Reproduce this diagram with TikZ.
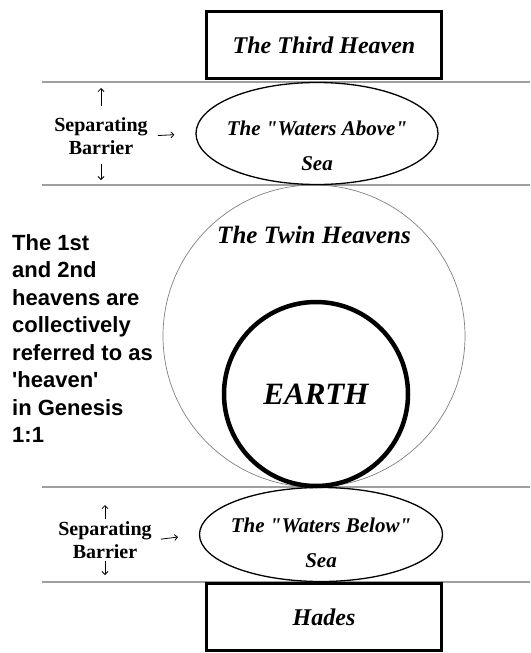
\documentclass[tikz,border=0pt]{standalone}
\usepackage{fontspec}
\setmainfont{Liberation Serif}
\newfontfamily\notefont{Liberation Sans}
\usetikzlibrary{shapes.geometric,arrows.meta}

\begin{document}
\begin{tikzpicture}[x=1pt, y=-1pt,
    realm/.style={draw, line width=3pt, minimum width=235pt, minimum height=67pt, inner sep=0pt,
        font=\fontsize{24}{28}\selectfont\bfseries\itshape},
    sea/.style={draw, ellipse, line width=1.3pt, inner sep=0pt},
    seatext/.style={align=center, inner sep=0pt, font=\fontsize{21}{35}\selectfont\bfseries\itshape},
    barrier/.style={align=center, inner sep=2pt, font=\fontsize{20}{23}\selectfont\bfseries},
    layer/.style={gray!75, line width=1.8pt},
    tick/.style={-{Straight Barb[length=3pt,width=6pt]}, line width=0.8pt}]
    \useasboundingbox (0,0) rectangle (530,653);

    % Layer boundaries
    \coordinate (line1 west) at (42,82);   \coordinate (line1 east) at (530,82);
    \coordinate (line2 west) at (42,185);  \coordinate (line2 east) at (530,185);
    \coordinate (line3 west) at (42,487);  \coordinate (line3 east) at (530,487);
    \coordinate (line4 west) at (42,582);  \coordinate (line4 east) at (530,582);
    \foreach \n in {1,...,4}
        \draw[layer] (line\n\space west) -- (line\n\space east);

    % Twin heavens and earth
    \node[draw=gray, circle, line width=0.7pt, minimum size=302pt, inner sep=0pt] (twin) at (314,336) {};
    \node[font=\fontsize{25}{28}\selectfont\bfseries\itshape] (twin label) at ([yshift=-50pt]twin.north) {The Twin Heavens};
    \node[draw, circle, line width=4.5pt, minimum size=184pt, inner sep=0pt,
        font=\fontsize{31}{34}\selectfont\bfseries\itshape] (earth) at (316,394) {EARTH};

    % Waters above and below
    \node[sea, minimum width=242pt, minimum height=102pt] (above) at (317,133.5) {};
    \node[seatext] (above label) at ([yshift=-12pt]above.center) {The \textquotedbl Waters Above\textquotedbl\\Sea};
    \node[sea, minimum width=243pt, minimum height=94pt] (below) at (321,534.5) {};
    \node[seatext] (below label) at ([yshift=-8pt]below.center) {The \textquotedbl Waters Below\textquotedbl\\Sea};

    % Third heaven and Hades
    \node[realm] (third) at (324,45) {The Third Heaven};
    \node[realm] (hades) at (324,617) {Hades};

    % Separating barriers
    \node[barrier] (bar1) at (101,136) {Separating\\Barrier};
    \draw[tick, shorten <=9pt, shorten >=6pt] (bar1.north) -- (bar1.north |- line1 west);
    \draw[tick, shorten <=7pt, shorten >=5pt] (bar1.south) -- (bar1.south |- line2 west);
    \draw[tick, shorten <=8pt, shorten >=21pt] (bar1.east) -- (above.west);

    \node[barrier] (bar2) at (105,540) {Separating\\Barrier};
    \draw[tick, shorten <=0pt, shorten >=18pt] (bar2.north) -- (bar2.north |- line3 west);
    \draw[tick, shorten <=0pt, shorten >=7pt] (bar2.south) -- (bar2.south |- line4 west);
    \draw[tick, shorten <=7pt, shorten >=21pt] (bar2.east) -- (below.west);

    % Note
    \node[anchor=north west, align=left, inner sep=0pt,
        font=\notefont\bfseries\fontsize{22}{27.5}\selectfont] (note) at (12,234)
        {The 1st\\and 2nd\\heavens are\\collectively\\referred to as\\'heaven'\\in Genesis\\1:1};

\end{tikzpicture}
\end{document}
